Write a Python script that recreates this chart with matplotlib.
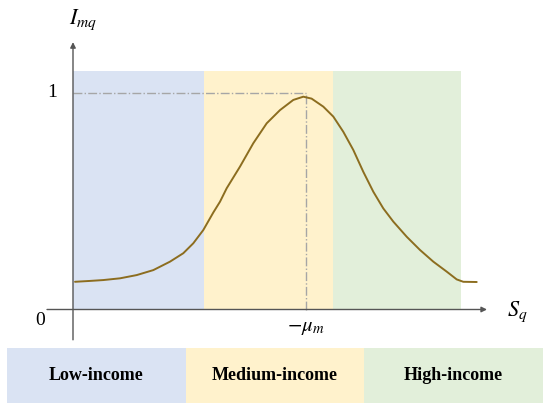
import matplotlib
matplotlib.use('Agg')
import matplotlib.pyplot as plt

plt.rcParams['font.family'] = ['Liberation Serif', 'DejaVu Serif']
plt.rcParams['mathtext.fontset'] = 'stix'

# curve (S_q axis 0..10, I_mq axis 0..1)
curve_x = [0.052, 0.438, 0.781, 1.211, 1.642, 2.070, 2.500, 2.843, 3.101,
           3.358, 3.616, 3.789, 3.961, 4.304, 4.647, 4.992, 5.335, 5.678,
           5.936, 6.150, 6.451, 6.709, 6.966, 7.224, 7.482, 7.740, 7.997,
           8.255, 8.601, 8.943, 9.286, 9.631, 9.889, 10.059, 10.405]
curve_y = [0.128, 0.132, 0.136, 0.144, 0.159, 0.182, 0.221, 0.260, 0.306,
           0.367, 0.448, 0.498, 0.560, 0.660, 0.768, 0.860, 0.921, 0.968,
           0.983, 0.974, 0.937, 0.891, 0.821, 0.737, 0.636, 0.544, 0.467,
           0.406, 0.336, 0.275, 0.221, 0.175, 0.139, 0.128, 0.127]

band_names = ['Low-income', 'Medium-income', 'High-income']
band_edges = [0, 3.38, 6.70, 10.0]
band_colors = ['#dae3f3', '#fff2cc', '#e2efda']
mu_m = 6.0
peak_level = 1.0

W, H = 550, 413
fig = plt.figure(figsize=(W / 100, H / 100), dpi=100)

# main axes: origin at pixel (73, 309.5), x=10 at px 461, y=1 at px 93
ax = fig.add_axes([73 / W, (H - 309.5) / H, (461 - 73) / W, (309.5 - 93) / H])
ax.set_xlim(0, 10)
ax.set_ylim(0, 1)
ax.axis('off')

for i in range(3):
    ax.fill_between([band_edges[i], band_edges[i + 1]], 0, 1.10,
                    color=band_colors[i], lw=0, clip_on=False, zorder=0)

ax.plot([0, mu_m], [peak_level, peak_level], color='#a6a6a6', lw=1.0,
        ls='-.', clip_on=False, zorder=1)
ax.plot([mu_m, mu_m], [0, peak_level], color='#a6a6a6', lw=1.0,
        ls='-.', clip_on=False, zorder=1)

ax.plot(curve_x, curve_y, color='#8c6d1f', lw=1.4, clip_on=False, zorder=3,
        solid_joinstyle='round', solid_capstyle='round')

arrow = dict(arrowstyle='-|>', color='#555555', lw=1.0,
             mutation_scale=8, shrinkA=0, shrinkB=0)
ax.annotate('', xy=(10.67, 0), xytext=(-0.67, 0), arrowprops=arrow,
            annotation_clip=False, zorder=4)
ax.annotate('', xy=(0, 1.235), xytext=(0, -0.14), arrowprops=arrow,
            annotation_clip=False, zorder=4)

ax.text(-0.54, 1.0, '1', fontsize=14, ha='center', va='center')
ax.text(-0.85, -0.05, '0', fontsize=14, ha='center', va='center')
ax.text(mu_m, -0.085, r'$-\mu_m$', fontsize=15, ha='center', va='center')
ax.text(11.44, -0.01, r'$S_q$', fontsize=16, ha='center', va='center')
ax.text(0.26, 1.34, r'$I_{mq}$', fontsize=16, ha='center', va='center')

# legend band underneath
bx = fig.add_axes([7 / W, (H - 403) / H, 536 / W, 55 / H])
bx.bar(range(3), [1, 1, 1], width=1.0, color=band_colors)
bx.set_xlim(-0.5, 2.5)
bx.set_ylim(0, 1)
bx.axis('off')
for i, name in enumerate(band_names):
    bx.text(i, 0.5, name, fontsize=13, fontweight='bold',
            ha='center', va='center')

fig.savefig('out.png', dpi=100)
